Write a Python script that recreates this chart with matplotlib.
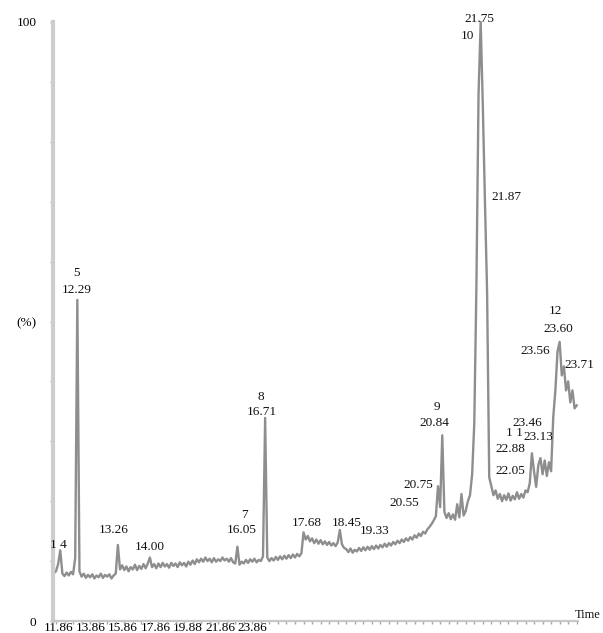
import numpy as np
import matplotlib
matplotlib.use("Agg")
import matplotlib.pyplot as plt
from matplotlib.ticker import MultipleLocator

plt.rcParams['font.family'] = ['Liberation Serif', 'DejaVu Serif']

# ---- data: relative intensity (%) sampled every 0.05 min, starting at 11.75 min ----
t_start = 11.75
t_step = 0.05
row_a = [8.0, 8.3, 9.5, 11.8, 7.9, 7.5, 8.1, 7.6, 8.2, 7.8, 10.5, 53.6, 8.3, 7.4, 7.9, 7.2, 7.7, 7.3, 7.8, 7.1]
row_b = [7.6, 7.3, 7.9, 7.2, 7.7, 7.4, 7.8, 7.1, 7.6, 7.9, 12.7, 8.6, 9.3, 8.5, 9.1, 8.3, 9.0, 8.6, 9.4, 8.5]
row_c = [9.2, 8.7, 9.5, 8.8, 9.6, 10.6, 9.0, 9.5, 8.8, 9.6, 9.0, 9.7, 9.1, 9.5, 8.9, 9.7, 9.2, 9.6, 9.0, 9.8]
row_d = [9.3, 9.7, 9.1, 9.9, 9.4, 10.1, 9.5, 10.3, 9.8, 10.4, 9.9, 10.6, 10.0, 10.4, 9.8, 10.5, 9.9, 10.3, 10.0, 10.6]
row_e = [10.1, 10.4, 9.9, 10.5, 9.8, 9.6, 12.4, 9.4, 9.9, 9.6, 10.2, 9.7, 10.3, 9.9, 10.4, 9.8, 10.2, 10.0, 10.8, 33.9]
row_f = [10.6, 10.0, 10.5, 10.1, 10.7, 10.2, 10.8, 10.3, 10.9, 10.4, 11.0, 10.5, 11.1, 10.6, 11.2, 10.8, 11.3, 14.8, 13.6, 14.2]
row_g = [13.3, 13.8, 13.0, 13.6, 12.9, 13.5, 12.8, 13.3, 12.7, 13.2, 12.6, 13.0, 12.5, 13.1, 15.2, 12.8, 12.2, 12.0, 11.5, 12.1]
row_h = [11.4, 11.9, 11.6, 12.2, 11.7, 12.3, 11.8, 12.4, 11.9, 12.5, 12.0, 12.6, 12.1, 12.7, 12.3, 12.9, 12.4, 13.0, 12.6, 13.2]
row_i = [12.8, 13.4, 13.0, 13.6, 13.2, 13.8, 13.4, 14.0, 13.6, 14.3, 13.9, 14.6, 14.2, 14.9, 14.6, 15.3, 15.7, 16.2, 16.8, 17.5]
row_j = [22.5, 19.0, 31.0, 18.2, 17.2, 18.0, 17.0, 17.8, 16.9, 19.5, 17.3, 21.2, 17.6, 18.4, 20.0, 21.0, 24.5, 33.0, 56.0, 88.0]
row_k = [100.0, 86.0, 70.0, 55.0, 24.0, 22.5, 21.0, 21.8, 20.4, 21.2, 20.0, 21.0, 20.2, 21.3, 20.1, 20.9, 20.3, 21.5, 20.4, 21.2]
row_l = [20.6, 21.8, 21.5, 23.0, 28.0, 25.0, 22.4, 26.0, 27.2, 24.5, 26.8, 24.2, 26.5, 25.0, 34.0, 38.5, 45.0, 46.6, 41.0, 42.5]
row_m = [38.5, 40.0, 36.5, 38.5, 35.5, 36.0]

intensity = np.array(row_a + row_b + row_c + row_d + row_e + row_f + row_g +
                     row_h + row_i + row_j + row_k + row_l + row_m)
times = np.round(t_start + t_step * np.arange(len(intensity)), 2)

# peak annotations (text, time, intensity)
peak_labels = ["1 4", "5", "12.29", "13.26", "14.00", "7", "16.05", "8", "16.71",
               "17.68", "18.45", "19.33", "20.55", "20.75", "9", "20.84",
               "21.75", "10", "21.87", "22.05", "22.88", "1 1", "23.13", "23.46",
               "23.56", "12", "23.60", "23.71"]
label_t = [11.85, 12.29, 12.29, 13.16, 14.00, 16.22, 16.16, 16.60, 16.62,
           17.68, 18.61, 19.27, 19.95, 20.28, 20.72, 20.67,
           21.73, 21.45, 22.36, 22.45, 22.45, 22.53, 23.09, 22.84,
           23.02, 23.51, 23.56, 24.06]
label_v = [12.7, 58.1, 55.3, 15.2, 12.4, 17.7, 15.2, 37.4, 34.9,
           16.4, 16.4, 15.0, 19.7, 22.7, 35.7, 33.1,
           100.5, 97.7, 70.8, 25.0, 28.7, 31.4, 30.7, 33.1,
           45.1, 51.8, 48.7, 42.7]

xtick_labels = ["11.86", "13.86", "15.86", "17.86", "19.88", "21.86", "23.86"]
ytick_values = [0, 10, 20, 30, 40, 50, 60, 70, 80, 90, 100]
ytick_labels = ["0", "", "", "", "", "(%)", "", "", "", "", "100"]

# ---- figure ----
W, H = 603, 633
fig = plt.figure(figsize=(W / 100, H / 100), dpi=100)
ax = fig.add_axes([53 / W, (H - 621) / H, (578 - 53) / W, (621 - 22) / H])

ax.plot(times, intensity, color='#8e8e8e', lw=1.7, solid_joinstyle='round', clip_on=False)

ax.set_xlim(11.73, 24.03)
ax.set_ylim(0, 100)

for s in ['top', 'right']:
    ax.spines[s].set_visible(False)
ax.spines['left'].set_color('#cdcdcd')
ax.spines['left'].set_linewidth(3)
ax.spines['bottom'].set_color('#c8c8c8')
ax.spines['bottom'].set_linewidth(1.6)

ax.set_yticks(ytick_values)
ax.set_yticklabels(ytick_labels)
ax.tick_params(axis='y', length=2, width=1, color='#9a9a9a', pad=10, labelsize=9.5)

xt0 = 11.85
xt_step = 0.76
ax.set_xticks([xt0 + xt_step * i for i in range(len(xtick_labels))])
ax.set_xticklabels(xtick_labels)
ax.tick_params(axis='x', which='major', length=0, pad=0.5, labelsize=9.5)
ax.xaxis.set_minor_locator(MultipleLocator(0.2))
ax.tick_params(axis='x', which='minor', length=2, width=1, color='#a8a8a8')

for lab, tx, vy in zip(peak_labels, label_t, label_v):
    ax.text(tx, vy, lab, ha='center', va='center', fontsize=9.5, color='#111111',
            clip_on=False)

ax.text(0.993, 0.01, "Time", transform=ax.transAxes, ha='left', va='center',
        fontsize=9, color='#111111')

fig.savefig("out.png", dpi=100)
